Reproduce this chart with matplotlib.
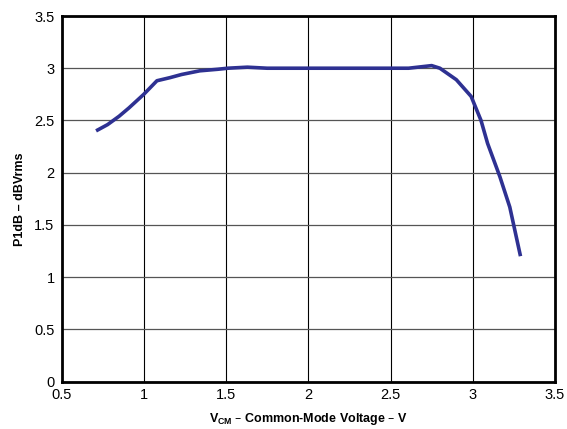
import numpy as np
import matplotlib
matplotlib.use('Agg')
import matplotlib.pyplot as plt

plt.rcParams['font.family'] = ['Liberation Sans', 'DejaVu Sans']
plt.rcParams['mathtext.default'] = 'regular'

# P1dB vs common-mode voltage
vcm = [0.71, 0.78, 0.85, 0.91, 1.0, 1.08, 1.16, 1.23, 1.34, 1.45, 1.51,
       1.63, 1.75, 2.0, 2.3, 2.61, 2.75, 2.80, 2.90, 2.99, 3.05, 3.09,
       3.165, 3.225, 3.29]
p1db = [2.40, 2.46, 2.54, 2.62, 2.75, 2.88, 2.91, 2.94, 2.975, 2.99, 3.0,
        3.01, 3.0, 3.0, 3.0, 3.0, 3.025, 3.0, 2.89, 2.73, 2.50, 2.28,
        1.96, 1.67, 1.20]

xticks = [0.5, 1, 1.5, 2, 2.5, 3, 3.5]
yticks = [0, 0.5, 1, 1.5, 2, 2.5, 3, 3.5]

fig = plt.figure(figsize=(5.67, 4.29), dpi=100)
ax = fig.add_axes([0.1085, 0.1107, 0.8704, 0.852])

ax.plot(vcm, p1db, color='#2E3192', linewidth=2.6, solid_capstyle='butt', zorder=3)

ax.set_xlim(0.5, 3.5)
ax.set_ylim(0, 3.5)
ax.set_xticks(xticks)
ax.set_yticks(yticks)
ax.set_xticklabels([f'{t:g}' for t in xticks])
ax.set_yticklabels([f'{t:g}' for t in yticks])
ax.tick_params(length=0, labelsize=10.5, pad=5)

ax.xaxis.grid(True, color='black', linewidth=0.8)
ax.yaxis.grid(True, color='#555555', linewidth=0.9)
ax.set_axisbelow(True)
for s in ax.spines.values():
    s.set_linewidth(2)
    s.set_color('black')

ax.set_xlabel(r'$V_{CM}$ – Common-Mode Voltage – V', fontsize=9, fontweight='bold', labelpad=6)
ax.set_ylabel('P1dB – dBVrms', fontsize=9, fontweight='bold', labelpad=6)

fig.savefig('out.png', dpi=100)
